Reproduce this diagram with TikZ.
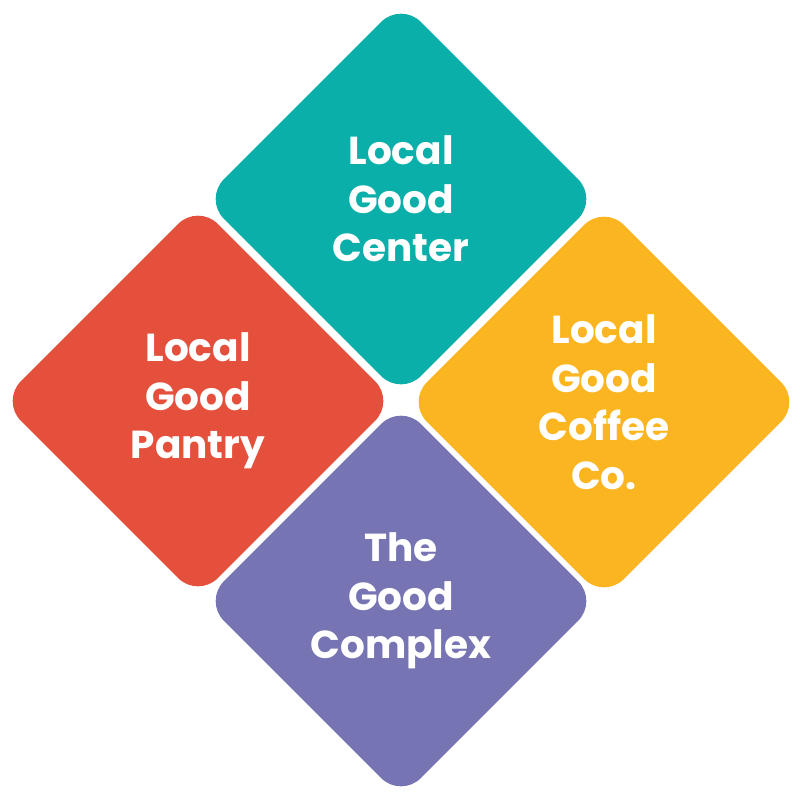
\documentclass[tikz,border=0pt]{standalone}
\usepackage{fontspec}
\setmainfont{Poppins}
\usetikzlibrary{shapes.geometric}
\definecolor{tealc}{HTML}{0AAFAA}
\definecolor{redc}{HTML}{E5503C}
\definecolor{yellowc}{HTML}{FBB520}
\definecolor{purplec}{HTML}{7774B4}
\tikzstyle{tile}=[shape=diamond,aspect=1,minimum width=394pt,minimum height=394pt,inner sep=0pt,rounded corners=28pt,text=white,align=center,font=\fontsize{39}{48.5}\selectfont\bfseries]
\begin{document}
\begin{tikzpicture}[x=1pt,y=-1pt]
        \useasboundingbox (0,0) rectangle (800,801);
        % tiles
        \node[tile,fill=tealc] (center) at (401,199) {Local\\Good\\Center};
        \node[tile,fill=redc] (pantry) at (198,401) {Local\\Good\\Pantry};
        \node[tile,fill=yellowc] (coffee) at (604,402) {Local\\Good\\Coffee\\Co.};
        \node[tile,fill=purplec] (complex) at (401,601) {The\\Good\\Complex};
\end{tikzpicture}
\end{document}
